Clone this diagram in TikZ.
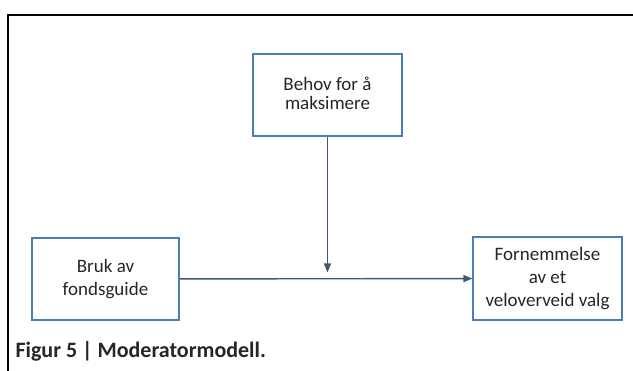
\documentclass[tikz,border=0pt]{standalone}
\usepackage{fontspec}
\setmainfont{Carlito}
\usepackage{tikz}
\usetikzlibrary{arrows.meta}
\usetikzlibrary{positioning}

\definecolor{boxblue}{HTML}{4A7EBB}
\definecolor{arrowgray}{HTML}{3E5878}
\definecolor{textgray}{HTML}{262626}

\tikzset{
    varbox/.style={draw=boxblue, line width=1.2pt, fill=white, align=center,
        text=textgray, font=\fontsize{19}{23}\selectfont, inner sep=0pt},
    modarrow/.style={draw=arrowgray, line width=1.4pt,
        -{Triangle[length=9pt,width=7pt]}}
}

\begin{document}
\begin{tikzpicture}[x=1pt, y=1pt]
            \useasboundingbox (0,0) rectangle (633,371);
            % frame
            \draw[line width=2pt] (8,0) -- (8,356) -- (633,356);
            \draw (327.5,276) node[varbox, minimum width=149pt, minimum height=82pt]   (behov) {\raisebox{4pt}{\shortstack{Behov for å\\[3pt]maksimere}}};
            \draw (105.5,92) node[varbox, minimum width=147pt, minimum height=82pt]    (bruk) {Bruk av\\fondsguide};
            \draw (547.5,92.5) node[varbox, minimum width=149pt, minimum height=83pt]  (fornem) {Fornemmelse\\av et\\veloverveid valg};
            \coordinate (mid) at (327.5,98.5);
            \draw[modarrow] (bruk) -- (fornem);
            \draw[modarrow] (behov) -- (mid);
            \draw (12,13) node[anchor=base west, font=\bfseries\fontsize{22}{26}\selectfont, text=textgray] (caption) {Figur 5 | Moderatormodell.};
\end{tikzpicture}
\end{document}
